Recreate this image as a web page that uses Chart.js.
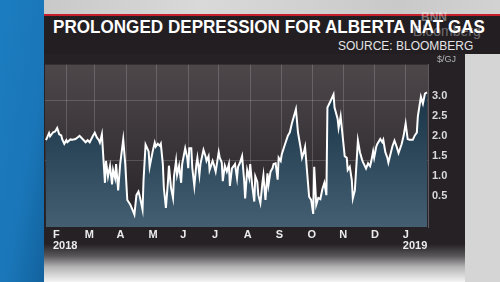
<!DOCTYPE html>
<html>
<head>
<meta charset="utf-8">
<script src="https://cdn.jsdelivr.net/npm/chart.js@4"></script>
<style>
  html, body { margin: 0; padding: 0; }
  body { width: 500px; height: 282px; position: relative; overflow: hidden; background: #d5d5d5; font-family: "Liberation Sans", Arial, sans-serif; }
  #topStrip { position: absolute; left: 0; top: 0; width: 500px; height: 15px; background: linear-gradient(to right, #c4c4c4, #d9d9d9 40%, #c9c9c9 80%, #d2d2d2); }
  #redLine { position: absolute; left: 44px; top: 14px; width: 456px; height: 2px; background: #c41f2b; }
  #band { position: absolute; left: 44px; top: 16px; width: 456px; height: 38px; background: #221e22; }
  #panel { position: absolute; left: 44px; top: 54px; width: 421px; height: 228px;
    background: linear-gradient(to bottom, #252125 0px, #252125 190px, #5a575a 202px, #b5b4b5 213px, #f4f4f4 228px); }
  #blue { position: absolute; left: 0; top: 0; width: 44px; height: 282px;
    background: linear-gradient(100deg, #1b7dc0 0%, #1a76b8 60%, #12629d 100%); }
  #title { position: absolute; left: 53px; top: 18px; font-weight: bold; font-size: 18px; line-height: 18px; color: #fff; white-space: nowrap; transform-origin: 0 0; }
  #source { position: absolute; left: 338px; top: 40px; font-size: 12px; line-height: 12px; color: #e4e4e4; white-space: nowrap; transform-origin: 0 0; }
  #wm1 { position: absolute; left: 421px; top: 11px; font-size: 12px; font-weight: bold; color: rgba(255,255,255,0.4); line-height: 12px; }
  #wm2 { position: absolute; left: 413px; top: 24px; font-size: 14px; color: rgba(255,255,255,0.35); line-height: 14px; }
  #unit { position: absolute; left: 437px; top: 55px; font-size: 9px; line-height: 9px; color: #b5b5b5; }
  #chart { position: absolute; left: 45px; top: 54px; }
</style>
</head>
<body>
<div id="topStrip"></div>
<div id="redLine"></div>
<div id="band"></div>
<div id="panel"></div>
<div id="blue"></div>
<div id="title">PROLONGED DEPRESSION FOR ALBERTA NAT GAS</div>
<div id="source">SOURCE: BLOOMBERG</div>
<div id="wm1">BNN</div>
<div id="wm2">Bloomberg</div>
<canvas id="chart" width="420" height="210"></canvas>
<div id="unit">$/GJ</div>
<script>
// stretch header texts to the widths seen in the picture
const fitText = (id, w) => {
  const el = document.getElementById(id);
  el.style.transform = 'scaleX(' + (w / el.offsetWidth) + ')';
};
fitText('title', 432);
fitText('source', 135);

// days since 1 Feb 2018
const days = [
  -20, -17, -16, -13, -11, -9, -7, -5, -4, -2,
  0, 1, 4, 6, 9, 11, 13, 16, 19, 21,
  23, 26, 28, 30, 32, 33, 35, 38, 39, 41,
  43, 45, 46, 48, 49, 51, 53, 56, 58, 60,
  63, 65, 67, 69, 71, 72, 75, 76, 78, 81,
  82, 85, 87, 88, 90, 92, 93, 95, 96, 98,
  100, 101, 103, 105, 106, 108, 109, 111, 113, 114,
  117, 119, 120, 121, 123, 124, 126, 128, 129, 131,
  132, 135, 137, 138, 140, 141, 144, 145, 147, 150,
  151, 153, 154, 156, 158, 160, 161, 163, 165, 166,
  168, 169, 171, 173, 175, 176, 178, 180, 181, 183,
  185, 186, 188, 189, 191, 193, 194, 196, 198, 199,
  201, 203, 204, 206, 208, 209, 211, 212, 215, 218,
  220, 222, 226, 228, 231, 232, 234, 235, 237, 239,
  241, 243, 244, 246, 248, 250, 252, 254, 256, 257,
  260, 263, 264, 267, 268, 270, 272, 274, 276, 277,
  279, 281, 282, 284, 287, 289, 291, 292, 295, 297,
  299, 300, 302, 303, 305, 306, 309, 311, 312, 314,
  316, 317, 320, 321, 323, 325, 327, 330, 332, 334,
  336, 338, 341, 343, 345, 346, 349, 351, 353, 355
];
// AECO price, $/GJ
const prices = [
  2.00, 2.18, 2.10, 2.20, 2.22, 2.31, 2.15, 2.12, 2.02, 1.91,
  2.00, 1.95, 2.02, 2.01, 2.03, 2.07, 2.11, 2.03, 1.95, 2.00,
  1.95, 2.10, 2.19, 2.07, 2.00, 1.94, 2.15, 0.93, 1.48, 1.09,
  1.35, 0.89, 1.25, 1.05, 1.40, 0.74, 1.40, 2.02, 1.40, 0.50,
  0.38, 0.26, 0.13, 0.62, 0.71, 0.62, 0.26, 1.00, 1.89, 1.72,
  1.33, 1.72, 1.94, 1.84, 1.91, 1.86, 1.91, 1.40, 0.80, 0.30,
  0.95, 1.36, 0.81, 0.55, 1.10, 1.48, 1.13, 1.36, 0.93, 1.40,
  1.80, 1.56, 1.30, 1.80, 1.80, 1.30, 0.85, 1.40, 1.56, 1.13,
  1.40, 1.76, 1.60, 1.48, 1.60, 1.25, 1.48, 1.40, 1.21, 1.70,
  1.56, 1.44, 0.97, 1.36, 1.21, 1.40, 0.85, 1.29, 1.36, 1.40,
  1.05, 1.33, 1.44, 1.60, 1.00, 0.54, 1.25, 1.05, 1.40, 0.85,
  0.46, 1.09, 0.95, 0.62, 0.42, 0.93, 1.12, 0.50, 1.17, 0.88,
  1.21, 1.30, 1.40, 1.42, 1.01, 1.56, 1.48, 1.64, 1.88, 2.11,
  2.20, 2.42, 2.78, 2.20, 1.75, 1.56, 1.72, 1.83, 1.20, 0.58,
  0.50, 0.15, 1.33, 0.38, 0.55, 0.52, 0.77, 0.93, 0.62, 2.82,
  2.98, 3.15, 2.82, 2.54, 2.31, 2.60, 2.10, 1.60, 1.56, 1.25,
  1.33, 1.00, 0.54, 0.74, 1.99, 1.70, 1.52, 1.45, 1.29, 1.42,
  1.35, 1.45, 1.72, 1.56, 1.83, 1.90, 2.03, 1.95, 2.01, 1.70,
  1.56, 1.44, 1.75, 1.85, 1.99, 1.85, 1.68, 1.90, 2.11, 2.42,
  2.03, 2.01, 2.01, 2.12, 2.19, 2.60, 3.09, 2.92, 3.17, 3.20
];

const monthStarts = [0, 28, 59, 89, 120, 150, 181, 212, 242, 273, 303, 334];
const monthLabels = [['F', '2018'], 'M', 'A', 'M', 'J', 'J', 'A', 'S', 'O', 'N', 'D', ['J', '2019']];
const yTicks = [0.5, 1.0, 1.5, 2.0, 2.5, 3.0];
const yGridAt = [1.5, 3.0];

// dark plot background behind the line
const plotBg = {
  id: 'plotBg',
  beforeDraw(chart) {
    const { ctx, chartArea: a } = chart;
    const g = ctx.createLinearGradient(0, a.top, 0, a.bottom);
    g.addColorStop(0, '#4d474a');
    g.addColorStop(1, '#262226');
    ctx.save();
    ctx.fillStyle = g;
    ctx.fillRect(a.left, a.top, a.right - a.left, a.bottom - a.top);
    ctx.restore();
  }
};

new Chart(document.getElementById('chart').getContext('2d'), {
  type: 'line',
  data: {
    datasets: [{
      data: days.map((d, i) => ({ x: d, y: prices[i] })),
      xAxisID: 'x',
      yAxisID: 'y',
      borderColor: '#ffffff',
      borderWidth: 2,
      pointRadius: 0,
      tension: 0,
      fill: 'start',
      backgroundColor: (c) => {
        const a = c.chart.chartArea;
        if (!a) return '#27455b';
        const g = c.chart.ctx.createLinearGradient(0, a.top, 0, a.bottom);
        g.addColorStop(0, '#112b3f');
        g.addColorStop(1, '#435f71');
        return g;
      }
    }]
  },
  options: {
    responsive: false,
    animation: false,
    devicePixelRatio: 1,
    layout: { padding: 0 },
    plugins: { legend: { display: false }, tooltip: { enabled: false } },
    scales: {
      x: {
        type: 'linear',
        min: -21,
        max: 356,
        afterBuildTicks: (s) => { s.ticks = monthStarts.map(v => ({ value: v })); },
        afterFit: (s) => { s.height = 0; },
        ticks: { display: false },
        grid: { color: 'rgba(255,255,255,0.17)', drawTicks: false },
        border: { display: false }
      },
      x2: {
        type: 'linear',
        position: 'bottom',
        min: -0.25,
        max: 11.79,
        afterBuildTicks: (s) => { s.ticks = monthLabels.map((l, i) => ({ value: i })); },
        afterFit: (s) => { s.height = 37; },
        grid: { display: false, drawTicks: false },
        border: { display: false },
        ticks: {
          align: 'start',
          autoSkip: false,
          maxRotation: 0,
          padding: 3,
          color: '#ececec',
          font: { family: 'Liberation Sans', size: 11, weight: 'bold', lineHeight: 0.95 },
          callback: (v, i) => monthLabels[i]
        }
      },
      y: {
        position: 'right',
        min: -0.18,
        max: 3.9,
        afterBuildTicks: (s) => { s.ticks = yTicks.map(v => ({ value: v })); },
        afterFit: (s) => { s.width = 37; },
        grid: {
          drawTicks: false,
          color: (c) => (c.tick && yGridAt.includes(c.tick.value)) ? 'rgba(255,255,255,0.17)' : 'rgba(0,0,0,0)'
        },
        border: { display: true, color: '#5d5a60', width: 1 },
        ticks: {
          padding: 4,
          labelOffset: -4,
          color: '#d9d9d9',
          font: { family: 'Liberation Sans', size: 11, weight: 'bold' },
          callback: (v) => v.toFixed(1)
        }
      }
    }
  },
  plugins: [plotBg]
});
</script>
</body>
</html>
